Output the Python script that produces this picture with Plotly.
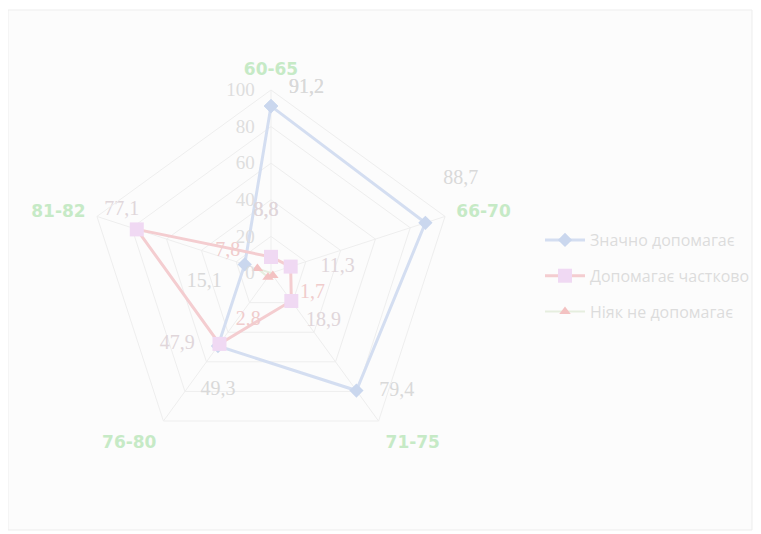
import plotly.graph_objects as go

categories = ["60-65", "66-70", "71-75", "76-80", "81-82"]
series_names = ["Значно допомагає", "Допомагає частково", "Ніяк не допомагає"]
vals_strong = [91.2, 88.7, 79.4, 49.3, 15.1]
vals_partial = [8.8, 11.3, 18.9, 47.9, 77.1]
vals_none = [0, 0, 1.7, 2.8, 7.8]
radial_ticks = [0, 20, 40, 60, 80, 100]

NB = "\u00a0"

def lbl(vals, pads):
    # pads: (left spaces, right spaces, blank lines above, blank lines below)
    out = []
    for v, (pl, pr, la, lb) in zip(vals, pads):
        if v == 0:
            out.append("")
        else:
            s = NB * pl + f"{v:.1f}".replace(".", ",") + NB * pr
            out.append(" <br>" * la + s + "<br> " * lb)
    return out

def closed(a):
    return list(a) + [a[0]]

# page is offset by the 8px body margin
OFF = 8
W, H = 761 - OFF, 534 - OFF
cx, cy, R = 271 - OFF, 273 - OFF, 183

fig = go.Figure()

fig.add_trace(go.Scatterpolar(
    r=closed(vals_strong), theta=closed(categories), name=series_names[0],
    legendgroup="a",
    mode="lines+markers+text",
    text=closed(lbl(vals_strong, [(2, 0, 0, 0), (2, 0, 0, 1), (3, 0, 0, 0), (0, 0, 1, 0), (0, 3, 0, 0)])),
    textposition=closed(["top right", "top right", "middle right", "bottom center", "bottom left"]),
    textfont=dict(family="Liberation Serif", size=20, color="#d9d9d9"),
    line=dict(color="#d4def1", width=3),
    marker=dict(symbol="diamond", size=11, color="#cad7ee"),
))
fig.add_trace(go.Scatterpolar(
    r=closed(vals_partial), theta=closed(categories), name=series_names[1],
    legendgroup="b",
    mode="lines+markers+text",
    text=closed(lbl(vals_partial, [(0, 2, 0, 1), (4, 0, 0, 0), (1, 0, 0, 0), (0, 3, 0, 0), (0, 6, 0, 0)])),
    textposition=closed(["top center", "middle right", "bottom right", "middle left", "top center"]),
    textfont=dict(family="Liberation Serif", size=20, color="#e0d6da"),
    line=dict(color="#f4cdd0", width=3),
    marker=dict(symbol="square", size=14, color="#f0d9f3"),
))
fig.add_trace(go.Scatterpolar(
    r=closed(vals_none), theta=closed(categories), name=series_names[2],
    legendgroup="c",
    mode="lines+markers+text",
    text=closed(lbl(vals_none, [(0, 0, 0, 0), (0, 0, 0, 0), (4, 0, 0, 0), (0, 0, 1, 0), (0, 2, 0, 0)])),
    textposition=closed(["top center", "top center", "bottom right", "bottom left", "top left"]),
    textfont=dict(family="Liberation Serif", size=20, color="#f0cccc"),
    line=dict(color="#e6eedf", width=2),
    marker=dict(symbol="triangle-up", size=10, color="#f3c2c2"),
))

x0 = (cx - R) / W
x1 = (cx + R) / W
y0 = (H - (cy + R)) / H
y1 = (H - (cy - R)) / H

fig.update_layout(
    width=W, height=H,
    margin=dict(l=0, r=0, t=0, b=0),
    paper_bgcolor="white",
    separators=", ",
    showlegend=True,
    legend=dict(
        x=(540 - OFF) / W, y=1 - (223 - OFF) / H, xanchor="left", yanchor="top",
        font=dict(family="Open Sans", size=16, color="#dcdcdc"),
        bgcolor="rgba(0,0,0,0)", tracegroupgap=12, itemwidth=40,
    ),
    polar=dict(
        domain=dict(x=[x0, x1], y=[y0, y1]),
        bgcolor="rgba(0,0,0,0)",
        gridshape="linear",
        radialaxis=dict(
            range=[0, 100], tickvals=radial_ticks, angle=90, side="counterclockwise",
            tickfont=dict(family="Liberation Serif", size=19, color="#dedede"),
            gridcolor="#eeeeee", showline=False,
            ticks="outside", ticklen=9, tickcolor="rgba(0,0,0,0)", tickangle=90,
        ),
        angularaxis=dict(
            rotation=90, direction="clockwise",
            tickfont=dict(family="DejaVu Sans", size=17, color="#c6eac6", weight="bold"),
            gridcolor="#eeeeee", linecolor="#eeeeee",
            ticks="outside", ticklen=8, tickcolor="rgba(0,0,0,0)",
        ),
    ),
    shapes=[dict(type="rect", xref="paper", yref="paper", layer="below",
                 x0=0, x1=(752 - OFF) / W, y0=1 - (530 - OFF) / H, y1=1 - (10 - OFF) / H,
                 fillcolor="#fcfcfc", line=dict(color="#ededed", width=1))],
)

fig.write_html("out.html")
